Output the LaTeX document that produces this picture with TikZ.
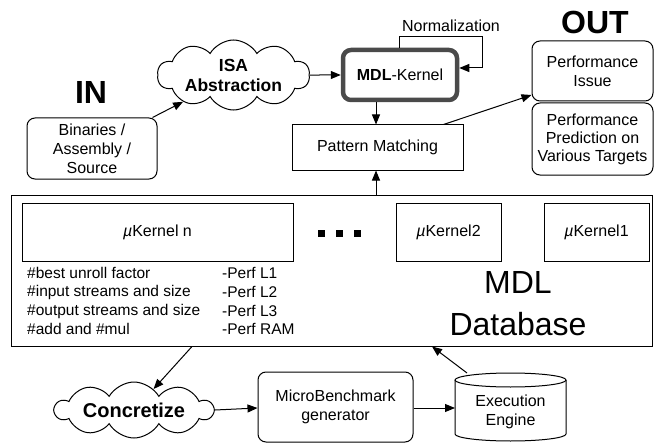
\documentclass[tikz,border=0pt]{standalone}
\usepackage{fontspec}
\setmainfont{Liberation Sans}
\usetikzlibrary{shapes.symbols,arrows.meta,calc}
\definecolor{kernelgray}{HTML}{4A4A4A}
\newcommand{\mukernel}{{\itshape µ}Kernel}
\tikzset{
  x=1pt, y=-1pt,
  base/.style={font=\fontsize{16}{19}\selectfont, align=center, inner sep=0pt},
  box/.style={base, draw, line width=1pt},
  rbox/.style={box, rounded corners=8pt},
  cloudy/.style={base, draw, line width=1pt, cloud, cloud puffs=10, cloud puff arc=120, cloud ignores aspect, font=\fontsize{17.5}{20}\selectfont\bfseries},
  arr/.style={line width=1pt, -{Triangle[length=10pt,width=8pt]}},
  big/.style={inner sep=0pt, align=center, font=\fontsize{32}{42}\selectfont},
  list/.style={inner sep=0pt, anchor=west, font=\fontsize{15.5}{18.7}\selectfont},
  dotsq/.style={fill, minimum size=7pt, inner sep=0pt}
}
\begin{document}
\begin{tikzpicture}
\useasboundingbox (0,0) rectangle (654,444);

% headings
\node[big, font=\fontsize{32}{36}\selectfont\bfseries] (in) at (91,92) {IN};
\node[big, font=\fontsize{32}{36}\selectfont\bfseries] (out) at (595,22) {OUT};

% input side
\node[rbox, minimum width=130pt, minimum height=61pt] (bin) at (92,148.5) {Binaries /\\Assembly /\\Source};
\node[cloudy, minimum width=152pt, minimum height=70pt] (isa) at (233.5,75) {ISA\\Abstraction};
\node[rbox, draw=kernelgray, line width=4.5pt, minimum width=114pt, minimum height=50pt] (mdl) at (400,75) {\textbf{MDL}-Kernel};
\node[base] (norm) at (451,26) {Normalization};
\node[box, minimum width=171pt, minimum height=45pt] (pm) at (377.5,147.5) {Pattern Matching};

% outputs
\node[rbox, minimum width=121pt, minimum height=60pt] (issue) at (592.5,71) {Performance\\Issue};
\node[rbox, minimum width=121pt, minimum height=72pt, font=\fontsize{16}{18}\selectfont] (pred) at (592.5,139) {Performance\\Prediction on\\Various Targets};

% database
\node[box, minimum width=641pt, minimum height=151pt] (db) at (331.5,270.5) {};
\node[box, minimum width=271pt, minimum height=58pt] (kn) at (157.5,232) {\mukernel{} n};
\node[box, minimum width=105pt, minimum height=58pt] (k2) at (448.5,232) {\mukernel2};
\node[box, minimum width=105pt, minimum height=58pt] (k1) at (596.5,232) {\mukernel1};
\node[dotsq] (d1) at (321,233) {};
\node[dotsq] (d2) at (339,233) {};
\node[dotsq] (d3) at (357,233) {};
\node[list] (l1) at (27,273) {\#best unroll factor};
\node[list] (l2) at (27,292) {\#input streams and size};
\node[list] (l3) at (27,311) {\#output streams and size};
\node[list] (l4) at (27,329) {\#add and \#mul};
\node[list] (p1) at (222,273) {-Perf L1};
\node[list] (p2) at (222,292) {-Perf L2};
\node[list] (p3) at (222,311) {-Perf L3};
\node[list] (p4) at (222,329) {-Perf RAM};
\node[big] (dbname) at (518,304) {MDL\\Database};

% benchmark loop
\node[cloudy, font=\fontsize{20}{24}\selectfont\bfseries, minimum width=158pt, minimum height=56pt] (conc) at (134,410) {Concretize};
\node[rbox, minimum width=155pt, minimum height=70pt] (mb) at (335.5,407) {MicroBenchmark\\generator};
\node[base, minimum width=111pt, minimum height=68pt] (exec) at (510.5,412) {Execution\\Engine};
\draw[line width=1pt] (455,380) -- (455,434) arc[start angle=180, end angle=360, x radius=55.5pt, y radius=7pt] -- (566,380);
\draw[line width=1pt] (510.5,380) ellipse[x radius=55.5pt, y radius=7pt];
\coordinate (exectop) at (467,373);

% connectors
\draw[arr] ([xshift=-5pt]bin.north east) -- (isa.208);
\draw[arr] (isa.east) -- (mdl.west);
\draw[arr] ([xshift=-1pt]mdl.north) |- (482,37) |- ([yshift=7pt]mdl.east);
\draw[arr] ([xshift=-24pt]mdl.south) coordinate (mdlout) -- (mdlout |- pm.north);
\draw[arr] ([xshift=-1.5pt]pm.south |- db.north) -- ([xshift=-1.5pt]pm.south);
\draw[arr] ([xshift=-20pt]pm.north east) -- ([yshift=-24pt]issue.west);
\draw[arr] ([xshift=-139.5pt]db.south) -- (conc.47);
\draw[arr] (conc.east) -- ([yshift=-1pt]mb.west);
\draw[arr] ([yshift=-1pt]mb.east) -- (455,408);
\draw[arr] (exectop) -- ([xshift=100.5pt]db.south);
\end{tikzpicture}
\end{document}
